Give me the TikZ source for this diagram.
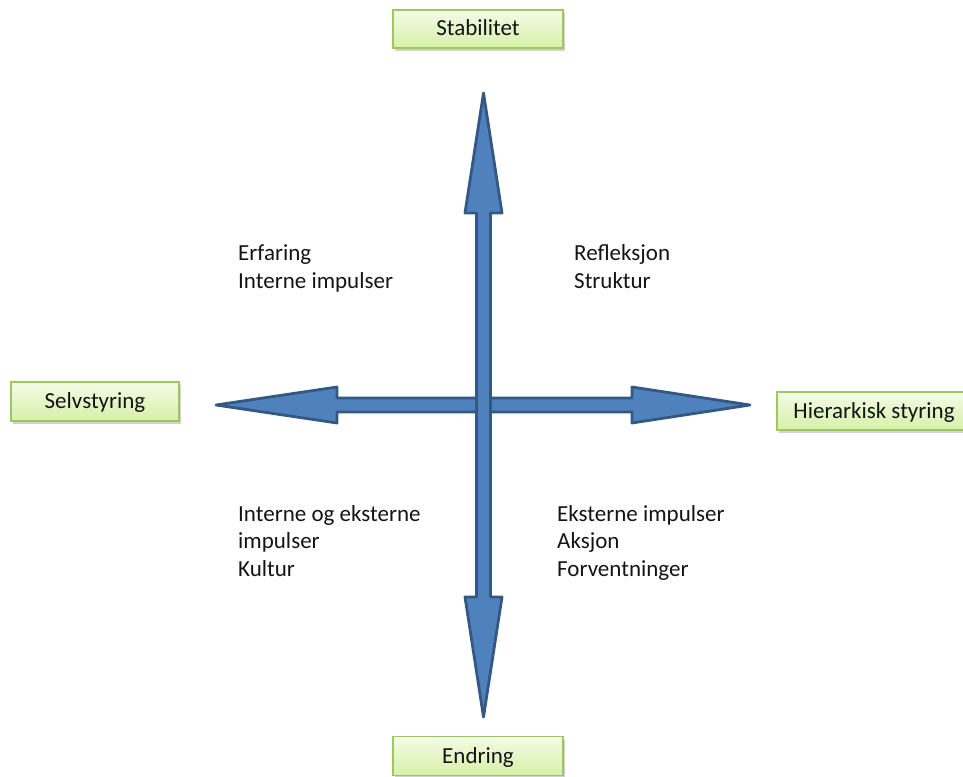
\documentclass[tikz,border=0pt]{standalone}
\usepackage{fontspec}
\setmainfont{Carlito}
\usetikzlibrary{shadows}
\definecolor{boxtop}{RGB}{244,251,230}
\definecolor{boxbot}{RGB}{214,240,168}
\definecolor{boxedge}{RGB}{158,198,98}
\definecolor{arrfill}{RGB}{79,129,189}
\definecolor{arredge}{RGB}{52,88,132}
\definecolor{txt}{RGB}{20,20,20}
\begin{document}
\begin{tikzpicture}[x=1pt,y=-1pt,
  lbl/.style={draw=boxedge, line width=1.2pt, top color=boxtop, bottom color=boxbot,
    minimum height=38pt, inner sep=0pt, text=txt, text depth=3pt, text height=17pt,
    font=\fontsize{23}{27.5}\selectfont,
    drop shadow={shadow xshift=2pt, shadow yshift=-3pt, opacity=0.3, fill=black!60}},
  note/.style={anchor=base west, align=left, inner sep=0pt, text=txt,
    font=\fontsize{23}{27.5}\selectfont},
  blockarrow/.style={fill=arrfill, draw=arredge, line width=2.8pt, line join=round}]
\useasboundingbox (0,0) rectangle (963,776);
\clip (0,0) rectangle (963,776);

% labelled boxes
\node[lbl, minimum width=170pt] (stab) at (478,29) {Stabilitet};
\node[lbl, minimum width=170pt, minimum height=39pt] (endr) at (478,756) {Endring};
\node[lbl, minimum width=168pt, minimum height=39pt] (selv) at (95,401.5) {Selvstyring};
\node[lbl, minimum width=194pt] (hier) at (874,411) {Hierarkisk styring};

% arrow geometry
\coordinate (c) at (483.5,405);
\coordinate (top) at (483.5,93);
\coordinate (bot) at (483.5,717);
\coordinate (lft) at (216,405);
\coordinate (rgt) at (750,405);

% horizontal double block arrow
\draw[blockarrow] (lft) -- (337,387) -- (337,398) -- (632,398) -- (632,387) -- (rgt)
  -- (632,423) -- (632,412) -- (337,412) -- (337,423) -- cycle;
% vertical double block arrow
\draw[blockarrow] (top) -- (502,213) -- (490.5,213) -- (490.5,597) -- (502,597) -- (bot)
  -- (465,597) -- (476.5,597) -- (476.5,213) -- (465,213) -- cycle;
% restore the horizontal shaft crossing fill
\fill[arrfill] (477.9,399.4) rectangle (489.1,410.6);

% quadrant texts (base = baseline of last line)
\node[note] (q1) at (238,288) {Erfaring\\Interne impulser};
\node[note] (q2) at (574,288) {Refleksjon\\Struktur};
\node[note] (q3) at (238,576) {Interne og eksterne\\impulser\\Kultur};
\node[note] (q4) at (557,576) {Eksterne impulser\\Aksjon\\Forventninger};
\end{tikzpicture}
\end{document}
